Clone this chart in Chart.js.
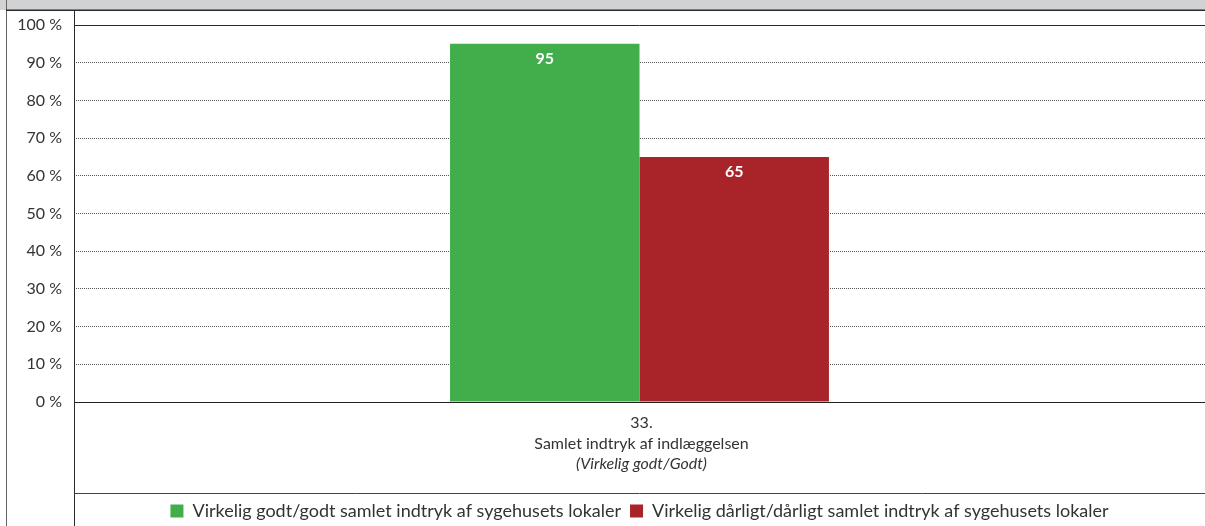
<!DOCTYPE html>
<html lang="da">
<head>
<meta charset="utf-8">
<title>Samlet indtryk af indlæggelsen</title>
<script src="https://cdn.jsdelivr.net/npm/chart.js@4.4.1/dist/chart.umd.min.js"></script>
<style>
  html, body { margin: 0; padding: 0; background: #fff; }
  #wrap { position: relative; width: 1205px; height: 526px; }
</style>
</head>
<body>
<div id="wrap"><canvas id="graf"></canvas></div>
<script>
// ---- DATA ----
var kategoriNr    = ['33.'];
var kategoriNavn  = ['Samlet indtryk af indlæggelsen'];
var kategoriUnder = ['(Virkelig godt/Godt)'];
var serieNavne    = ['Virkelig godt/godt samlet indtryk af sygehusets lokaler',
                     'Virkelig dårligt/dårligt samlet indtryk af sygehusets lokaler'];
var godt          = [95];
var daarligt      = [65];
var yTicks        = [0, 10, 20, 30, 40, 50, 60, 70, 80, 90, 100];

var FONT = 'Lato, "Liberation Sans", sans-serif';
var TXT  = '#333333';

// ---- RAMME, LINJER OG TEKSTER ----
var rammePlugin = {
  id: 'ramme',
  beforeDraw: function(chart) {
    var c = chart.ctx;
    c.save();
    c.fillStyle = '#d1d2d4';
    c.fillRect(0, 0, chart.width, 10);
    c.restore();
  },
  afterDatasetsDraw: function(chart) {
    var c = chart.ctx;
    c.save();
    c.font = 'bold 16px ' + FONT;
    c.fillStyle = '#ffffff';
    c.textAlign = 'center';
    c.textBaseline = 'middle';
    chart.data.datasets.forEach(function(ds, di) {
      var meta = chart.getDatasetMeta(di);
      meta.data.forEach(function(bar, i) {
        c.fillText(String(ds.data[i]), bar.x, bar.y + 15);
      });
    });
    c.restore();
  },
  afterDraw: function(chart) {
    var c = chart.ctx, a = chart.chartArea;
    var x = chart.scales.x, y = chart.scales.y;
    c.save();
    // venstre kant
    c.strokeStyle = '#666666';
    c.lineWidth = 1;
    c.beginPath(); c.moveTo(6.5, 0); c.lineTo(6.5, chart.height); c.stroke();
    // linje under overskriftsbaand
    c.strokeStyle = '#2a2a2a';
    c.lineWidth = 1.5;
    c.beginPath(); c.moveTo(6, 10.25); c.lineTo(chart.width, 10.25); c.stroke();
    c.lineWidth = 1;
    // lodret linje ved y-aksen
    c.beginPath(); c.moveTo(a.left + 0.5, 10); c.lineTo(a.left + 0.5, chart.height); c.stroke();
    // 100 % linje
    var y100 = Math.round(y.getPixelForValue(100)) + 0.5;
    c.beginPath(); c.moveTo(a.left, y100); c.lineTo(chart.width, y100); c.stroke();
    // skillelinje over forklaring
    c.strokeStyle = '#444444';
    var ySep = Math.round(x.bottom) + 0.5;
    c.beginPath(); c.moveTo(a.left, ySep); c.lineTo(chart.width, ySep); c.stroke();

    // kategoritekster under x-aksen
    c.fillStyle = TXT;
    c.textAlign = 'center';
    c.textBaseline = 'alphabetic';
    kategoriNr.forEach(function(nr, i) {
      var px = x.getPixelForValue(i) + 2;
      c.font = '16px ' + FONT;
      c.fillText(nr, px, a.bottom + 26);
      c.fillText(kategoriNavn[i], px, a.bottom + 47);
      c.font = 'italic 16px ' + FONT;
      c.fillText(kategoriUnder[i], px, a.bottom + 67);
    });
    c.restore();
  }
};

var ctx = document.getElementById('graf');
new Chart(ctx, {
  type: 'bar',
  data: {
    labels: kategoriNavn,
    datasets: [
      { label: serieNavne[0], data: godt,     backgroundColor: '#41ae4b', borderWidth: 0 },
      { label: serieNavne[1], data: daarligt, backgroundColor: '#a82428', borderWidth: 0 }
    ]
  },
  options: {
    responsive: true,
    maintainAspectRatio: false,
    animation: false,
    categoryPercentage: 0.335,
    barPercentage: 1,
    layout: { padding: { left: 7, top: 25, right: 0, bottom: -4 } },
    plugins: {
      tooltip: { enabled: false },
      legend: {
        position: 'bottom',
        fullSize: false,
        labels: {
          boxWidth: 13, boxHeight: 13, padding: 9,
          color: TXT, font: { family: FONT, size: 18 }
        }
      }
    },
    scales: {
      x: {
        grid: { display: false },
        border: { display: true, color: '#222222', width: 1 },
        ticks: { display: false },
        afterFit: function(s) { s.height = 91; }
      },
      y: {
        min: 0, max: 100,
        afterBuildTicks: function(s) {
          s.ticks = yTicks.map(function(v) { return { value: v }; });
        },
        grid: { color: '#555555', lineWidth: 1, drawTicks: false },
        border: { display: false, dash: [1, 1] },
        ticks: {
          padding: 12, color: TXT, font: { family: FONT, size: 16 },
          callback: function(v) { return v + ' %'; }
        },
        afterFit: function(s) { s.width = 67; }
      }
    }
  },
  plugins: [rammePlugin]
});
</script>
</body>
</html>
